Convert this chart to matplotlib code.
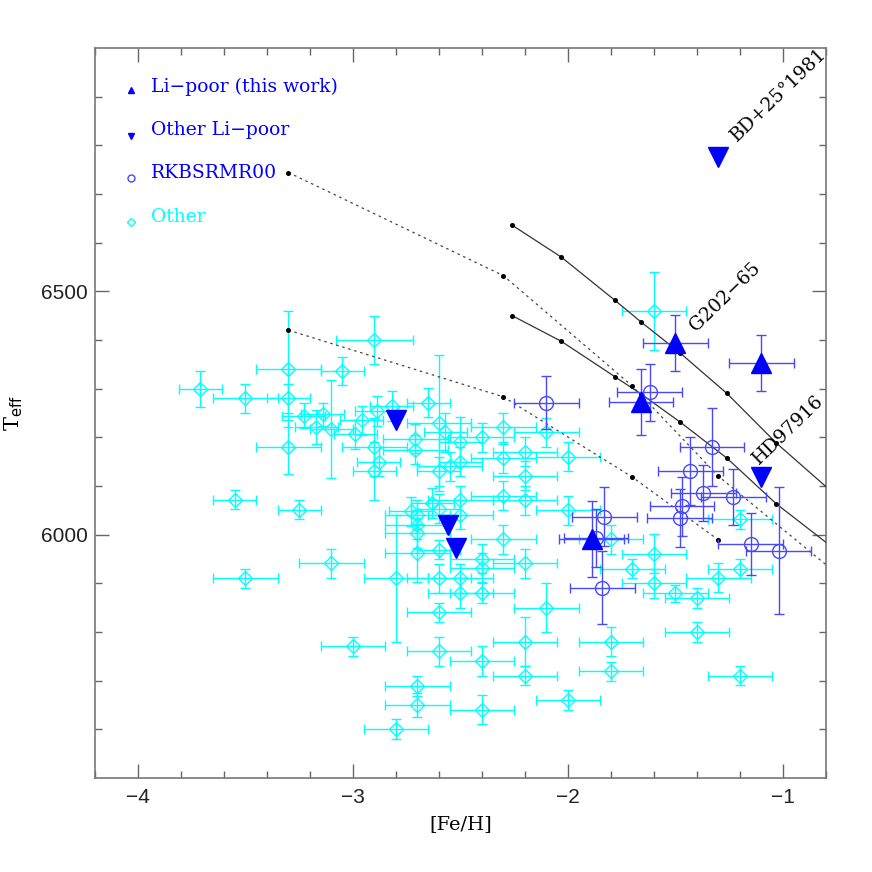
import numpy as np
import matplotlib
matplotlib.use('Agg')
from matplotlib import pyplot as plt

# "Other" stars (cyan diamonds): [Fe/H], Teff and their errors
other_feh = [-3.71, -3.50, -3.30, -3.30, -3.30, -2.90, -3.05, -3.23, -3.14, -3.17,
             -3.10, -2.96, -2.89, -2.99, -2.90, -2.88, -2.90, -3.55, -2.82, -2.65,
             -2.71, -2.71, -2.60, -2.57, -2.60, -2.55, -2.50, -2.50, -2.40, -2.30,
             -2.10, -2.30, -2.20, -2.00, -2.20, -3.25, -3.10, -2.73, -2.70, -2.70,
             -2.70, -2.63, -2.60, -2.70, -2.60, -2.30, -2.20, -2.50, -2.50, -2.30,
             -2.00, -2.40, -2.40, -2.20, -2.50, -2.60, -2.80, -3.50, -2.50, -2.40,
             -3.00, -2.70, -2.70, -2.80, -2.60, -2.60, -2.10, -2.20, -2.20, -2.40,
             -2.40, -2.00, -1.80, -1.80, -1.80, -1.70, -1.60, -1.60, -1.50, -1.40,
             -1.40, -1.30, -1.20, -1.20, -1.20, -1.60]
other_teff = [6300, 6280, 6340, 6280, 6180, 6400, 6336, 6244, 6247, 6221,
              6217, 6235, 6254, 6206, 6180, 6150, 6130, 6072, 6264, 6271,
              6197, 6174, 6230, 6210, 6130, 6140, 6191, 6150, 6200, 6220,
              6210, 6157, 6170, 6160, 6121, 6051, 5941, 6048, 6041, 6020,
              6003, 6065, 6053, 5962, 5969, 6080, 6070, 6070, 6041, 5990,
              6050, 5950, 5932, 5941, 5910, 5910, 5910, 5910, 5880, 5880,
              5770, 5689, 5650, 5600, 5840, 5760, 5850, 5780, 5710, 5740,
              5640, 5660, 5990, 5780, 5719, 5930, 5961, 5900, 5879, 5870,
              5800, 5911, 5930, 6031, 5710, 6460]
other_feh_err = [0.10, 0.15, 0.15, 0.10, 0.15, 0.18, 0.10, 0.10, 0.10, 0.10,
                 0.10, 0.10, 0.10, 0.10, 0.15, 0.10, 0.10, 0.10, 0.10, 0.10,
                 0.15, 0.15, 0.15, 0.10, 0.10, 0.15, 0.10, 0.10, 0.15, 0.15,
                 0.15, 0.15, 0.15, 0.15, 0.15, 0.10, 0.15, 0.10, 0.15, 0.15,
                 0.15, 0.10, 0.10, 0.15, 0.10, 0.15, 0.15, 0.15, 0.15, 0.15,
                 0.15, 0.15, 0.15, 0.15, 0.15, 0.15, 0.15, 0.15, 0.15, 0.15,
                 0.15, 0.15, 0.15, 0.15, 0.15, 0.15, 0.15, 0.15, 0.15, 0.15,
                 0.15, 0.15, 0.15, 0.15, 0.15, 0.15, 0.15, 0.15, 0.15, 0.15,
                 0.15, 0.15, 0.15, 0.15, 0.15, 0.15]
other_teff_err = [37, 30, 120, 30, 55, 50, 28, 26, 23, 34,
                  100, 30, 30, 30, 60, 30, 60, 20, 30, 30,
                  30, 30, 140, 40, 30, 30, 50, 30, 30, 30,
                  30, 30, 30, 30, 30, 20, 30, 30, 30, 30,
                  30, 30, 30, 60, 20, 30, 30, 30, 30, 30,
                  30, 30, 30, 30, 30, 30, 130, 20, 30, 20,
                  20, 20, 24, 20, 20, 30, 50, 50, 20, 30,
                  30, 20, 30, 30, 20, 20, 40, 30, 18, 20,
                  20, 30, 20, 20, 20, 80]

# RKBSRMR00 (open blue circles)
rk_feh = [-2.10, -1.62, -1.33, -1.43, -1.37, -1.23, -1.47, -1.48, -1.15, -1.02,
          -1.83, -1.87, -1.84]
rk_teff = [6271, 6292, 6180, 6130, 6085, 6077, 6058, 6034, 5981, 5967,
           6037, 5993, 5891]
rk_feh_err = [0.15] * 13
rk_teff_err = [55, 58, 81, 70, 58, 57, 60, 60, 64, 130, 60, 60, 75]

# Li-poor (this work), up triangles
lp_feh = [-1.50, -1.10, -1.66, -1.89]
lp_teff = [6394, 6353, 6273, 5990]
lp_feh_err = [0.15, 0.15, 0.15, 0.15]
lp_teff_err = [57, 58, 68, 78]

# Other Li-poor, down triangles
olp_feh = [-1.30, -1.10, -2.80, -2.56, -2.52]
olp_teff = [6775, 6119, 6236, 6020, 5973]

# tracks: two solid, two dotted
solid1_feh = [-2.26, -2.03, -1.78, -1.66, -1.48, -1.26, -1.03, -0.70]
solid1_teff = [6636, 6570, 6481, 6437, 6374, 6290, 6188, 6060]
solid2_feh = [-2.26, -2.03, -1.78, -1.66, -1.48, -1.26, -1.03, -0.70]
solid2_teff = [6450, 6397, 6324, 6289, 6232, 6157, 6063, 5950]
dot1_feh = [-3.30, -2.30, -1.70, -1.30, -0.70]
dot1_teff = [6744, 6532, 6305, 6120, 5902]
dot2_feh = [-3.30, -2.30, -1.70, -1.30]
dot2_teff = [6420, 6283, 6118, 5989]

# star labels
star_names = ['BD+25\u00b01981', 'G202\u221265', 'HD97916']
star_feh = [-1.215, -1.405, -1.112]
star_teff = [6806, 6417, 6143]

legend_labels = ['Li\u2212poor (this work)', 'Other Li\u2212poor', 'RKBSRMR00', 'Other']

cyan = '#00ffff'
blue = '#0000ff'
light_blue = '#4848ff'

plt.close('all')
fig = plt.figure(figsize=(8.72, 8.72), dpi=100, facecolor='white')
ax = fig.add_axes([0.109, 0.108, 0.838, 0.837])

# other stars
ax.errorbar(other_feh, other_teff, xerr=other_feh_err, yerr=other_teff_err,
            fmt='D', ms=7.5, mfc='none', mec=cyan, mew=1.0, ecolor=cyan,
            elinewidth=1.0, capsize=3.5, capthick=1.0, zorder=2)

# tracks
ax.plot(solid1_feh, solid1_teff, '-', color='#333333', lw=0.9, zorder=3)
ax.plot(solid2_feh, solid2_teff, '-', color='#333333', lw=0.9, zorder=3)
ax.plot(dot1_feh, dot1_teff, color='#444444', lw=0.9, ls=(0, (2, 3)), zorder=3)
ax.plot(dot2_feh, dot2_teff, color='#444444', lw=0.9, ls=(0, (2, 3)), zorder=3)
for fx, ty in [(solid1_feh, solid1_teff), (solid2_feh, solid2_teff),
               (dot1_feh, dot1_teff), (dot2_feh, dot2_teff)]:
    ax.plot(fx, ty, 'o', color='black', ms=2.6, ls='none', zorder=4)

# RKBSRMR00
ax.errorbar(rk_feh, rk_teff, xerr=rk_feh_err, yerr=rk_teff_err,
            fmt='o', ms=10, mfc='none', mec=light_blue, mew=1.0, ecolor=light_blue,
            elinewidth=1.0, capsize=3.5, capthick=1.0, zorder=5)

# Li-poor this work
ax.errorbar(lp_feh, lp_teff, xerr=lp_feh_err, yerr=lp_teff_err,
            fmt='none', ecolor=light_blue, elinewidth=1.0, capsize=3.5,
            capthick=1.0, zorder=5)
ax.plot(lp_feh, lp_teff, '^', color=blue, ms=14, mec=blue, ls='none', zorder=6)

# other Li-poor
ax.plot(olp_feh, olp_teff, 'v', color=blue, ms=14, mec=blue, ls='none', zorder=6)

# star names, along the tracks
for name, fx, ty in zip(star_names, star_feh, star_teff):
    ax.text(fx, ty, name, rotation=44, rotation_mode='anchor', ha='left',
            va='baseline', fontsize=13.5, family='DejaVu Serif', color='black')

# hand made legend
leg_y_text = [0.947, 0.888, 0.829, 0.769]
leg_y_mark = [0.942, 0.880, 0.822, 0.762]
leg_colors = [blue, blue, blue, cyan]
ax.plot(0.049, leg_y_mark[0], '^', color=blue, ms=5, transform=ax.transAxes)
ax.plot(0.049, leg_y_mark[1], 'v', color=blue, ms=5, transform=ax.transAxes)
ax.plot(0.049, leg_y_mark[2], 'o', mfc='none', mec=light_blue, ms=5, mew=1.0,
        transform=ax.transAxes)
ax.plot(0.049, leg_y_mark[3], 'D', mfc='none', mec=cyan, ms=4, mew=1.0,
        transform=ax.transAxes)
for lab, yy, cc in zip(legend_labels, leg_y_text, leg_colors):
    ax.text(0.077, yy, lab, transform=ax.transAxes, color=cc, fontsize=13.5,
            family='DejaVu Serif', va='center', ha='left')

# axes limits and ticks, pgplot like
ax.set_xlim(-4.19, -0.81)
ax.set_ylim(5500, 7000)
ax.set_xticks(np.arange(-4, -0.5, 1))
ax.set_xticks(np.arange(-4.2, -0.75, 0.2), minor=True)
ax.set_yticks([6000, 6500])
ax.set_yticks(np.arange(5600, 7000, 100), minor=True)
ax.set_xticklabels(['\u22124', '\u22123', '\u22122', '\u22121'])
ax.tick_params(which='both', direction='in', top=True, right=True, color='#666666',
               width=1.0, labelsize=15, labelcolor='#222222')
ax.tick_params(which='major', length=10)
ax.tick_params(which='minor', length=5)
ax.tick_params(axis='x', pad=7)
ax.tick_params(axis='y', pad=5)
for tl in ax.get_xticklabels() + ax.get_yticklabels():
    tl.set_family('Liberation Sans')
for sp in ax.spines.values():
    sp.set_color('#777777')
    sp.set_linewidth(1.2)

ax.set_xlabel('[Fe/H]', fontsize=14, family='DejaVu Serif', labelpad=6)
plt.rcParams['mathtext.fontset'] = 'dejavuserif'
ax.set_ylabel(r'T$_{\rm eff}$', fontsize=15, family='DejaVu Serif', labelpad=12)

fig.savefig('out.png', dpi=100, facecolor='white')
